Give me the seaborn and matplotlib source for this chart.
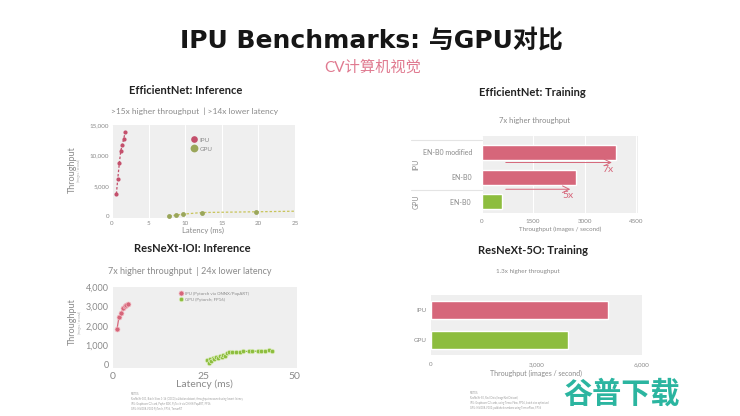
import matplotlib
matplotlib.use("Agg")
import matplotlib.pyplot as plt
import seaborn as sns
import pandas as pd

# ---------------- data ----------------
effnet_inf_ipu_latency = [0.6, 0.78, 1.0, 1.2, 1.4, 1.6, 1.8]
effnet_inf_ipu_throughput = [3700, 6100, 8700, 10800, 11700, 12750, 13800]
effnet_inf_gpu_latency = [7.8, 8.7, 9.7, 12.3, 19.7, 27.0]
effnet_inf_gpu_throughput = [100, 200, 380, 650, 770, 900]

resnext_inf_ipu_latency = [1.2, 1.74, 2.4, 2.9, 3.3, 3.76, 4.1]
resnext_inf_ipu_throughput = [1840, 2470, 2680, 2900, 2990, 3040, 3140]
resnext_inf_gpu_latency = [26.0, 26.5, 26.8, 27.2, 27.6, 28.0, 28.5, 29.0, 29.5, 30.0,
                           30.5, 31.0, 31.5, 32.0, 33.0, 34.0, 35.0, 36.0, 37.5, 38.5,
                           40.0, 41.0, 42.0, 43.0, 44.0]
resnext_inf_gpu_throughput = [250, 90, 300, 200, 350, 290, 400, 380, 460, 430,
                              520, 480, 600, 650, 640, 680, 660, 700, 690, 710,
                              700, 720, 720, 740, 730]

effnet_train_labels = ["EN-B0 modified", "EN-B0", "EN-B0 "]
effnet_train_groups = ["IPU", "IPU", "GPU"]
effnet_train_values = [3920, 2740, 580]
effnet_train_ratios = ["7x", "5x"]

resnext_train_labels = ["IPU", "GPU"]
resnext_train_values = [5030, 3890]

IPU_C = "#d6667a"
IPU_DOT = "#c4506c"
GPU_C = "#8dbd3e"
GPU_DOT = "#9aa65a"
BG = "#efefef"
GRAY = "#8a8a8a"

sns.set_theme(style="white")
plt.rcParams["font.family"] = ["Lato", "Noto Sans CJK SC", "DejaVu Sans"]

W, H = 740, 416
fig = plt.figure(figsize=(7.4, 4.16), dpi=100)
fig.patch.set_facecolor("white")


def ax_px(left, top, right, bottom):
    return fig.add_axes([left / W, 1 - bottom / H, (right - left) / W, (bottom - top) / H])


def ftext(x, y, s, **kw):
    fig.text(x / W, 1 - y / H, s, **kw)


def style(ax):
    ax.set_facecolor(BG)
    for sp in ax.spines.values():
        sp.set_visible(False)
    ax.tick_params(length=0, colors=GRAY)
    ax.set_axisbelow(True)


# ---------------- titles ----------------
ftext(371, 40, "IPU Benchmarks: 与GPU对比", ha="center", va="center",
      fontsize=18, fontweight="bold", color="#161616",
      family=["DejaVu Sans", "Noto Sans CJK SC"])
ftext(373, 67, "CV计算机视觉", ha="center", va="center", fontsize=11, color="#e07a90")

# ---------------- panel 1: EfficientNet inference ----------------
ax1 = ax_px(112, 125, 295, 218)
style(ax1)
df_ipu = pd.DataFrame({"lat": effnet_inf_ipu_latency, "thr": effnet_inf_ipu_throughput})
df_gpu = pd.DataFrame({"lat": effnet_inf_gpu_latency, "thr": effnet_inf_gpu_throughput})
sns.lineplot(data=df_ipu, x="lat", y="thr", ax=ax1, color=IPU_DOT, lw=0.9,
             linestyle=(0, (2, 1.5)), marker="o", markersize=3, markeredgewidth=0,
             label="IPU", sort=False)
sns.lineplot(data=df_gpu, x="lat", y="thr", ax=ax1, color="#c8c45a", lw=0.9,
             linestyle=(0, (2, 1.5)), marker="o", markersize=3.5,
             markerfacecolor=GPU_DOT, markeredgewidth=0, label="GPU", sort=False)
ax1.set_xlim(0, 25)
ax1.set_ylim(-250, 15000)
ax1.set_xticks([0, 5, 10, 15, 20, 25])
ax1.set_yticks([0, 5000, 10000, 15000])
ax1.set_yticklabels(["0", "5,000", "10,000", "15,000"])
ax1.tick_params(labelsize=4.5, pad=2)
ax1.grid(axis="x", color="white", lw=0.8)
ax1.grid(axis="y", visible=False)
ax1.set_xlabel("Latency (ms)", fontsize=5.5, color=GRAY, labelpad=1)
ax1.set_ylabel("")
leg = ax1.legend(loc="upper left", bbox_to_anchor=(0.42, 0.93), frameon=False,
                 fontsize=4.5, handlelength=0, handletextpad=0.8, labelspacing=0.6,
                 markerscale=1.6)
for t in leg.get_texts():
    t.set_color(GRAY)
ftext(186, 90, "EfficientNet: Inference", ha="center", va="center",
      fontsize=8, fontweight="bold", color="#222222")
ftext(195, 111, ">15x higher throughput  | >14x lower latency", ha="center",
      va="center", fontsize=6, color=GRAY)
ftext(72, 170, "Throughput", rotation=90, ha="center", va="center", fontsize=6.5, color=GRAY)
ftext(79, 170, "(images / second)", rotation=90, ha="center", va="center",
      fontsize=2.2, color="#aaaaaa")

# ---------------- panel 2: ResNeXt-101 inference ----------------
ax2 = ax_px(112.7, 286.7, 296.7, 367.7)
style(ax2)
df2_ipu = pd.DataFrame({"lat": resnext_inf_ipu_latency, "thr": resnext_inf_ipu_throughput})
df2_gpu = pd.DataFrame({"lat": resnext_inf_gpu_latency, "thr": resnext_inf_gpu_throughput})
sns.lineplot(data=df2_ipu, x="lat", y="thr", ax=ax2, color=IPU_C, lw=0.9,
             marker="o", markersize=3.6, markeredgewidth=0.5, markeredgecolor="#f3c0c8",
             label="IPU (Pytorch via ONNX/PopART)", sort=False)
sns.lineplot(data=df2_gpu, x="lat", y="thr", ax=ax2, color=GPU_C, lw=0.9,
             marker="o", markersize=3.2, markeredgewidth=0.5, markeredgecolor="#d9ecb8",
             label="GPU (Pytorch; FP16)", sort=False)
ax2.set_xlim(0, 50.7)
ax2.set_ylim(-140, 4000)
ax2.set_xticks([0, 25, 50])
ax2.set_yticks([0, 1000, 2000, 3000, 4000])
ax2.set_yticklabels(["0", "1,000", "2,000", "3,000", "4,000"])
ax2.tick_params(axis="y", labelsize=6.5, pad=3)
ax2.tick_params(axis="x", labelsize=7.5, pad=3)
ax2.grid(False)
ax2.set_xlabel("Latency (ms)", fontsize=7.5, color=GRAY, labelpad=-1)
ax2.set_ylabel("")
leg2 = ax2.legend(loc="upper left", bbox_to_anchor=(0.35, 0.99), frameon=False,
                  fontsize=3.2, handlelength=0, handletextpad=0.9, labelspacing=0.5,
                  markerscale=1.0)
for t in leg2.get_texts():
    t.set_color(GRAY)
ftext(192, 248, "ResNeXt-IOI: Inference", ha="center", va="center",
      fontsize=8, fontweight="bold", color="#222222")
ftext(190, 271, "7x higher throughput  | 24x lower latency", ha="center",
      va="center", fontsize=6.5, color=GRAY)
ftext(72, 322, "Throughput", rotation=90, ha="center", va="center", fontsize=6.5, color=GRAY)
ftext(80, 322, "(images / second)", rotation=90, ha="center", va="center",
      fontsize=2.2, color="#aaaaaa")
ftext(131, 392, "NOTES:\nResNeXt-101, Batch Sizes 1-16 (COCO) validation dataset, throughput measured using lowest latency\n"
      "IPU: Graphcore C2 card, Poplar SDK, PyTorch via ONNX/PopART, FP16\nGPU: NVIDIA V100 PyTorch, FP16, TensorRT",
      ha="left", va="top", fontsize=1.8, color="#999999", linespacing=1.3)

# ---------------- panel 3: EfficientNet training ----------------
ax3 = ax_px(481.7, 136, 638, 213)
style(ax3)
df3 = pd.DataFrame({"label": effnet_train_labels, "value": effnet_train_values,
                    "group": effnet_train_groups})
sns.barplot(data=df3, y="label", x="value", hue="group", ax=ax3, orient="h",
            palette={"IPU": IPU_C, "GPU": GPU_C}, width=0.6, dodge=False, legend=False,
            saturation=1)
ax3.set_xlim(0, 4550)
ax3.set_xticks([0, 1500, 3000, 4500])
ax3.tick_params(axis="x", labelsize=4.5, pad=4)
ax3.tick_params(axis="y", labelsize=5, pad=7)
ax3.grid(axis="x", color="white", lw=0.8)
ax3.grid(axis="y", visible=False)
ax3.set_ylabel("")
ax3.set_xlabel("Throughput (images / second)", fontsize=4.5, color=GRAY, labelpad=2)
arrow_props = dict(arrowstyle="->", color=IPU_C, lw=0.7)
ax3.annotate("", xy=(effnet_train_values[0] - 50, 0.42), xytext=(620, 0.42),
             arrowprops=arrow_props)
ax3.text(effnet_train_values[0] - 80, 0.68, effnet_train_ratios[0], ha="right",
         va="center", fontsize=7.5, color=IPU_C)
ax3.annotate("", xy=(effnet_train_values[1] - 80, 1.49), xytext=(620, 1.49),
             arrowprops=arrow_props)
ax3.text(effnet_train_values[1] - 80, 1.75, effnet_train_ratios[1], ha="right",
         va="center", fontsize=7.5, color=IPU_C)
for yy in (-0.5, 1.5):
    ax3.plot([-0.45, 0], [yy, yy], transform=ax3.get_yaxis_transform(),
             color="#e4e4e4", lw=0.8, clip_on=False)
ax3.text(-0.42, 0.5, "IPU", rotation=90, transform=ax3.get_yaxis_transform(),
         ha="center", va="center", fontsize=5, color=GRAY)
ax3.text(-0.42, 2.0, "GPU", rotation=90, transform=ax3.get_yaxis_transform(),
         ha="center", va="center", fontsize=5, color=GRAY)
ftext(532, 93, "EfficientNet: Training", ha="center", va="center",
      fontsize=8, fontweight="bold", color="#222222")
ftext(535, 121, "7x higher throughput", ha="center", va="center", fontsize=5.5, color=GRAY)

# ---------------- panel 4: ResNeXt-50 training ----------------
ax4 = ax_px(431, 295, 642, 355)
style(ax4)
df4 = pd.DataFrame({"label": resnext_train_labels, "value": resnext_train_values})
sns.barplot(data=df4, y="label", x="value", hue="label", ax=ax4, orient="h",
            palette={"IPU": IPU_C, "GPU": GPU_C}, width=0.57, legend=False, saturation=1)
ax4.set_xlim(0, 6000)
ax4.set_xticks([0, 3000, 6000])
ax4.set_xticklabels(["0", "3,000", "6,000"])
ax4.tick_params(axis="x", labelsize=4.5, pad=5)
ax4.tick_params(axis="y", labelsize=4.5, pad=3)
ax4.grid(False)
ax4.set_ylabel("")
ax4.set_xlabel("Throughput (images / second)", fontsize=5, color=GRAY, labelpad=2)
ftext(533, 250, "ResNeXt-5O: Training", ha="center", va="center",
      fontsize=8, fontweight="bold", color="#222222")
ftext(528, 272, "1.3x higher throughput", ha="center", va="center", fontsize=4.5, color=GRAY)
ftext(470, 391, "NOTES:\nResNeXt-50, Real Data (ImageNet Dataset)\n"
      "IPU: Graphcore C2 cards, using TensorFlow, FP16, batch size optimised\n"
      "GPU: NVIDIA V100, published numbers using TensorFlow, FP16",
      ha="left", va="top", fontsize=1.8, color="#999999", linespacing=1.3)

# watermark
ftext(622, 393.5, "谷普下载", ha="center", va="center", fontsize=21,
      fontweight="bold", color="#2bb5a0", family=["Noto Sans CJK SC"])

fig.savefig("out.png", dpi=100, facecolor="white")
